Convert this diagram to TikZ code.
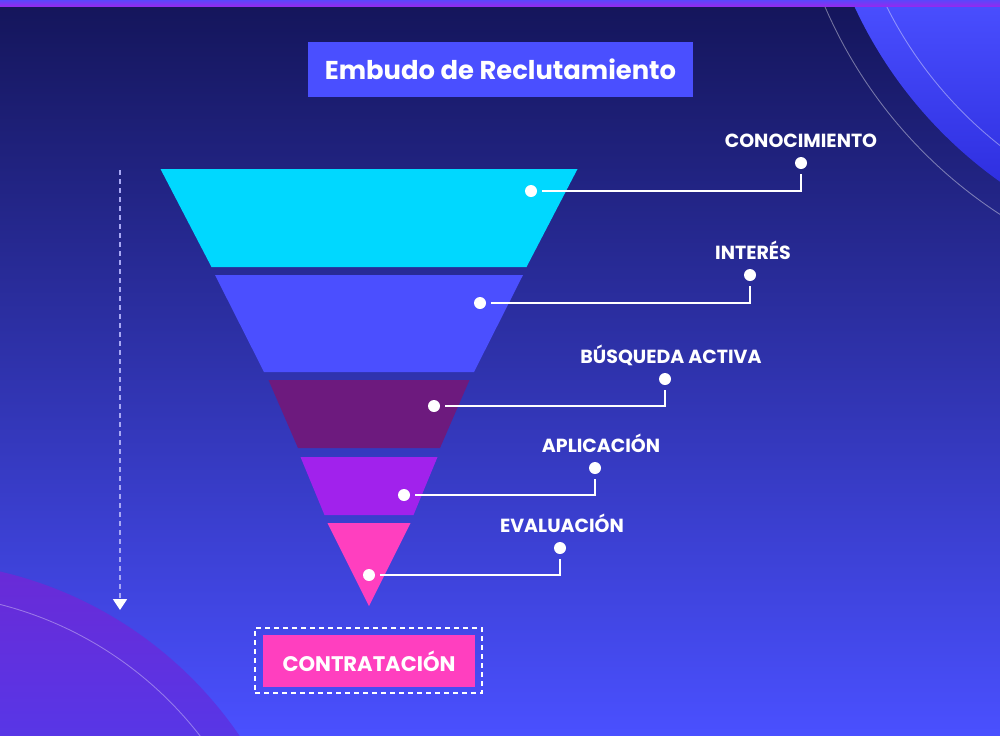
\documentclass[tikz,border=0pt]{standalone}
\usepackage{fontspec}
\setmainfont{Poppins}
\usetikzlibrary{arrows.meta,positioning,calc}

\definecolor{fondoarriba}{HTML}{14155A}
\definecolor{fondoabajo}{HTML}{4A50FF}
\definecolor{titulo}{HTML}{4A4FFF}
\definecolor{circulo}{HTML}{2220D2}
\definecolor{circuloa}{HTML}{6A2AD6}
\definecolor{circulob}{HTML}{5836E6}
\definecolor{capa1}{HTML}{00D8FF}
\definecolor{capa2}{HTML}{4B4FFF}
\definecolor{capa3}{HTML}{6D1A7E}
\definecolor{capa4}{HTML}{A122EC}
\definecolor{capa5}{HTML}{FF3FBF}
\definecolor{flujo}{HTML}{A9A9F5}

\tikzset{
  punto/.style={circle, fill=white, minimum size=0.24cm, inner sep=0pt, outer sep=0.1cm},
  etiqueta/.style={text=white, font=\bfseries\fontsize{10.8}{13}\selectfont, anchor=base, inner sep=0pt},
  enlace/.style={draw=white, line width=1.1pt},
}

\begin{document}
\begin{tikzpicture}[x=0.02cm, y=-0.02cm]
  \useasboundingbox (0,0) rectangle (1000,735);
  \clip (0,0) rectangle (1000,735);
  \shade[top color=fondoarriba, bottom color=fondoabajo] (0,0) rectangle (1000,735);

  % circulo arriba a la derecha
  \begin{scope}
    \clip (1255,-178) circle (8.82cm);
    \shade[top color=titulo, bottom color=circulo] (800,0) rectangle (1000,270);
  \end{scope}
  \draw[white, opacity=.4, line width=0.5pt] (1255,-178) circle (8.24cm) (1255,-178) circle (9.36cm);

  % circulo abajo a la izquierda
  \begin{scope}
    \clip (-91,961) circle (8cm);
    \shade[top color=circuloa, bottom color=circulob] (0,560) rectangle (300,735);
  \end{scope}
  \draw[white, opacity=.35, line width=0.5pt] (-91,961) circle (7.36cm);

  \shade[top color=titulo!80!capa4, bottom color=capa4!80!titulo] (0,0) rectangle (1000,6);

  \node[fill=titulo, minimum width=7.7cm, minimum height=1.1cm, text=white,
    font=\bfseries\fontsize{14.7}{17}\selectfont] (titulo) at (500.5,69.5) {Embudo de Reclutamiento};

  % embudo
  \foreach \ya/\yb/\wa/\wb/\col in {169/267/208.5/157.5/capa1, 275/372/154/105/capa2,
      380/448/100.5/71/capa3, 457/515/68.5/44.5/capa4, 523/606/41.5/0/capa5}{
      \fill[\col] ({369-\wa},\ya) -- ({369+\wa},\ya) -- ({369+\wb},\yb) -- ({369-\wb},\yb) -- cycle;
    }

  \foreach \n/\fx/\fy/\kx/\ky/\lx/\txt in {1/531/191/801/163/801/CONOCIMIENTO,
      2/480/303/750/275/753/INTERÉS, 3/434/406/665/379/671/BÚSQUEDA ACTIVA,
      4/404/495/595/468/601/APLICACIÓN, 5/369/575/560/548/562/EVALUACIÓN}{
      \node[punto] (f\n) at (\fx,\fy) {};
      \node[punto] (k\n) at (\kx,\ky) {};
      \node[etiqueta] (e\n) at (\lx,\ky-15.5) {\txt};
      \draw[enlace] (f\n) -| (k\n);
    }

  % flecha lateral
  \coordinate (flujoini) at (120,170);
  \coordinate (flujofin) at (120,610);
  \draw[flujo, line width=1pt, dash pattern=on 0.1cm off 0.08cm,
    -{Triangle[width=0.28cm, length=0.22cm, color=white]}] (flujoini) -- (flujofin);

  \node[draw=white, line width=0.8pt, dash pattern=on 0.1cm off 0.08cm,
    minimum width=4.54cm, minimum height=1.3cm] (marco) at (368.5,660.5) {};
  \node[fill=capa5, minimum width=4.24cm, minimum height=1.04cm, text=white,
    font=\bfseries\fontsize{12}{14}\selectfont] (contratacion) at (369,661) {CONTRATACIÓN};
\end{tikzpicture}
\end{document}
